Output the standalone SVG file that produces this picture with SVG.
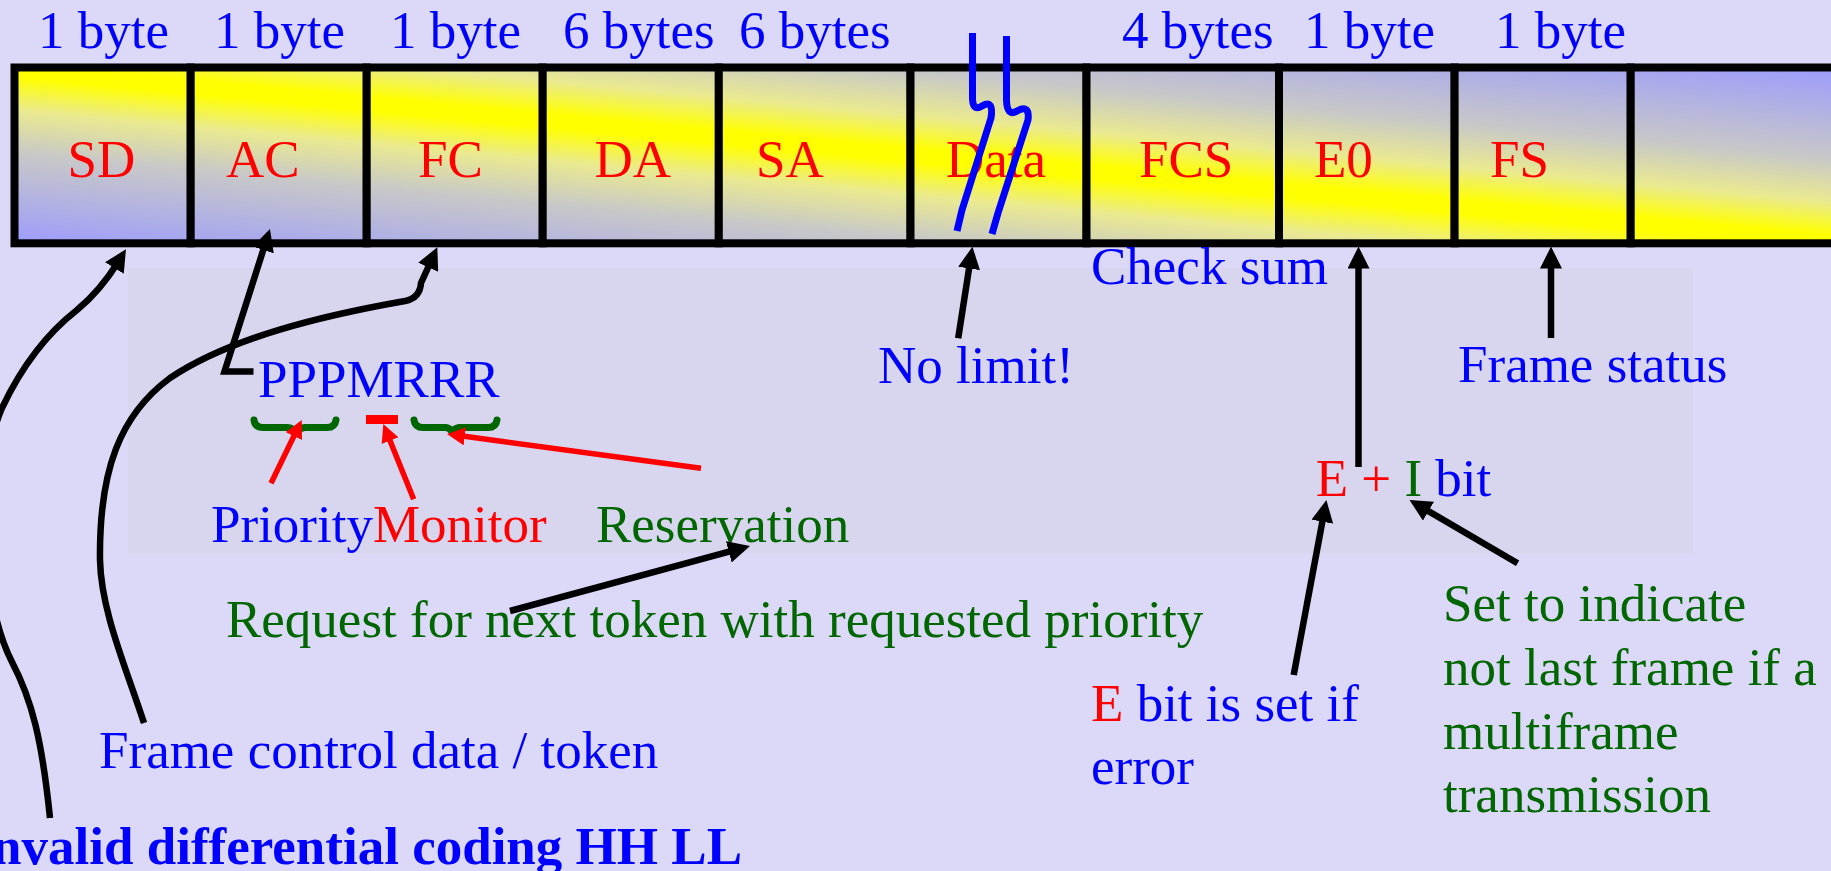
<svg xmlns="http://www.w3.org/2000/svg" width="1831" height="871" viewBox="0 0 1831 871">
<style>
.t{font-family:"Liberation Serif","Times New Roman",serif;font-size:53px}
.b{fill:#0000ff}.r{fill:#ff0000}.g{fill:#006600}
.cell{fill:url(#band);stroke:#000;stroke-width:8}
.blk{stroke:#000;stroke-width:6.5;fill:none;marker-end:url(#ah)}
.red{stroke:#ff0000;stroke-width:5.5;fill:none;marker-end:url(#ahr)}
.brace{stroke:#006600;stroke-width:7;fill:none;stroke-linecap:round;stroke-linejoin:round}
.brk{stroke:#0000ff;stroke-width:7;fill:none;stroke-linejoin:round}
</style>
<defs>
<linearGradient id="band" gradientUnits="userSpaceOnUse" x1="900" y1="-11" x2="900" y2="319" gradientTransform="rotate(5.4 900 154)">
<stop offset="0" stop-color="#a0a0f8"/>
<stop offset="0.25" stop-color="#c8c8c8"/>
<stop offset="0.38" stop-color="#eaea90"/>
<stop offset="0.48" stop-color="#ffff00"/>
<stop offset="0.52" stop-color="#ffff00"/>
<stop offset="0.62" stop-color="#eaea90"/>
<stop offset="0.75" stop-color="#c8c8c8"/>
<stop offset="1" stop-color="#a0a0f8"/>
</linearGradient>
<marker id="ah" markerUnits="userSpaceOnUse" markerWidth="22" markerHeight="22" refX="8" refY="11" orient="auto" viewBox="0 0 22 22"><path d="M0,0 L22,11 L0,22 z" fill="#000"/></marker>
<marker id="ahr" markerUnits="userSpaceOnUse" markerWidth="18" markerHeight="18" refX="6" refY="9" orient="auto" viewBox="0 0 18 18"><path d="M0,0 L18,9 L0,18 z" fill="#ff0000"/></marker>
</defs>
<rect x="0" y="0" width="1831" height="871" fill="#dcd8f8"/>
<rect x="128" y="268" width="1565" height="285" fill="#d8d5ef"/>

<g id="sizes">
<text class="t b" x="38" y="48">1 byte</text>
<text class="t b" x="214" y="48">1 byte</text>
<text class="t b" x="390" y="48">1 byte</text>
<text class="t b" x="563" y="48">6 bytes</text>
<text class="t b" x="739" y="48">6 bytes</text>
<text class="t b" x="1122" y="48">4 bytes</text>
<text class="t b" x="1304" y="48">1 byte</text>
<text class="t b" x="1495" y="48">1 byte</text>
</g>

<g id="cell-sd"><rect class="cell" x="14.5" y="67.5" width="176.2" height="175.8"/><text class="t r" x="67.5" y="176.5">SD</text></g>
<g id="cell-ac"><rect class="cell" x="190.7" y="67.5" width="176" height="175.8"/><text class="t r" x="226" y="176.5">AC</text></g>
<g id="cell-fc"><rect class="cell" x="366.7" y="67.5" width="176" height="175.8"/><text class="t r" x="418" y="176.5">FC</text></g>
<g id="cell-da"><rect class="cell" x="542.7" y="67.5" width="176.1" height="175.8"/><text class="t r" x="594.5" y="176.5">DA</text></g>
<g id="cell-sa"><rect class="cell" x="718.8" y="67.5" width="191.7" height="175.8"/><text class="t r" x="756" y="176.5">SA</text></g>
<g id="cell-data"><rect class="cell" x="910.5" y="67.5" width="176" height="175.8"/><text class="t r" x="946" y="176.5">Data</text>
<path class="brk" d="M972.5 33 L972.5 96 Q972 112 982 106 Q994 99 991 118 L962 210 L957 231"/>
<path class="brk" d="M1006.5 36 L1006.5 100 Q1007 117 1017 111 Q1030 104 1028 120 L998 213 L992 234"/>
</g>
<g id="cell-fcs"><rect class="cell" x="1086.5" y="67.5" width="192.5" height="175.8"/><text class="t r" x="1139" y="176.5">FCS</text></g>
<g id="cell-e0"><rect class="cell" x="1279" y="67.5" width="175.6" height="175.8"/><text class="t r" x="1314" y="176.5">E0</text></g>
<g id="cell-fs"><rect class="cell" x="1454.6" y="67.5" width="176.1" height="175.8"/><text class="t r" x="1490" y="176.5">FS</text></g>
<g id="cell-end"><rect class="cell" x="1630.7" y="67.5" width="220" height="175.8"/></g>

<g id="pppmrrr">
<text class="t b" x="258" y="396.7">PPPMRRR</text>
<path class="brace" d="M254 420 Q255 427.5 263 427.5 L287 427.5 Q293 428 296 432 Q299 428 305 427.5 L327 427.5 Q335 427.5 336 420"/>
<rect x="366" y="415" width="32" height="9" fill="#ff0000"/>
<path class="brace" d="M414 420 Q415 427.5 423 427.5 L446 427.5 Q450 428 452 432 Q455 428 459 427.5 L488 427.5 Q496 427.5 497 420"/>
</g>
<g id="labels">
<text class="t" x="211" y="541.7"><tspan class="b">Priority</tspan><tspan class="r">Monitor</tspan></text>
<text class="t g" x="596" y="541.7">Reservation</text>
<text class="t g" x="226" y="637.3">Request for next token with requested priority</text>
<text class="t b" x="99" y="768.3">Frame control data / token</text>
<text class="t b" x="742" y="864" text-anchor="end" font-weight="bold">Invalid differential coding HH LL</text>
<text class="t b" x="878" y="383.3">No limit!</text>
<text class="t b" x="1091" y="284">Check sum</text>
<text class="t b" x="1458" y="382">Frame status</text>
<text class="t" x="1315.7" y="496"><tspan class="r">E + </tspan><tspan class="g">I</tspan><tspan class="b"> bit</tspan></text>
<text class="t" x="1091" y="720.7"><tspan class="r">E</tspan><tspan class="b"> bit is set if</tspan></text>
<text class="t b" x="1091" y="784">error</text>
<text class="t g" x="1443" y="621">Set to indicate</text>
<text class="t g" x="1443" y="685">not last frame if a</text>
<text class="t g" x="1443" y="749">multiframe</text>
<text class="t g" x="1443" y="812.3">transmission</text>
</g>

<g id="connectors">
<path class="blk" d="M50 818 C42 740 32 700 12 662 C-20 600 -25 470 2 408 C20 370 45 335 77 310 C95 295 107 280 118.6 261.2"/>
<path class="blk" d="M253.5 371.5 L224.5 371.5 L265.7 242.3"/>
<path class="blk" d="M144 723 C125 665 101 610 100 560 C99 470 120 415 170 378 C230 338 320 316 405 301 Q420 298 421 283 L431.5 260"/>
<path class="blk" d="M958.2 338.3 L970.3 260.5"/>
<path class="blk" d="M1358.5 467 L1358.5 260.5"/>
<path class="blk" d="M1551 338 L1551 260.5"/>
<path class="blk" d="M1293.7 675 L1323.8 513.8"/>
<path class="blk" d="M1517.6 563.3 L1421.6 507.1"/>
<path class="blk" d="M510 611 L736.5 549.7"/>
<path class="red" d="M271 483.3 L296.5 430.8"/>
<path class="red" d="M413.7 499.3 L387.8 435.1"/>
<path class="red" d="M701 468.3 L458.9 435.6"/>
</g>
</svg>
